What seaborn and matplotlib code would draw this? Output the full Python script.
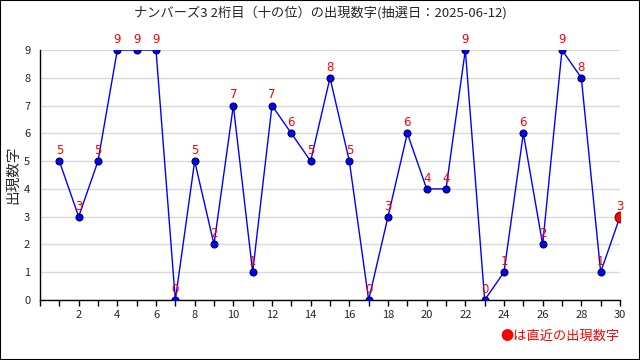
import matplotlib.pyplot as plt
from matplotlib.ticker import MultipleLocator
import seaborn as sns
import pandas as pd

# 抽選回 (古い順) と 2桁目の出現数字
draw_index = list(range(1, 31))
digits = [5, 3, 5, 9, 9, 9, 0, 5, 2, 7, 1, 7, 6, 5, 8, 5, 0, 3, 6, 4,
          4, 9, 0, 1, 6, 2, 9, 8, 1, 3]
x_ticks = list(range(2, 31, 2))
y_ticks = list(range(0, 10))

title = "ナンバーズ3 2桁目（十の位）の出現数字(抽選日：2025-06-12)"

df = pd.DataFrame({"回": draw_index, "数字": digits})

sns.set_theme(style="white")
plt.rcParams['font.family'] = ['Noto Sans CJK JP', 'DejaVu Sans']

fig = plt.figure(figsize=(6.4, 3.6), dpi=100)
ax = fig.add_axes([40 / 640, 60 / 360, 580 / 640, 250 / 360])

sns.lineplot(data=df, x="回", y="数字", ax=ax, color="#0000ff", linewidth=1,
             marker="o", markersize=5, markerfacecolor="#0000ff",
             markeredgecolor="#000044", markeredgewidth=0.8, zorder=3)

# 直近の数字を大きい赤丸で
last = df.iloc[-1]
ax.scatter([last["回"]], [last["数字"]], s=60, color="#ff0000",
           edgecolor="#880000", linewidth=0.8, zorder=4)

# 各点の数字ラベル
for x, y in zip(df["回"], df["数字"]):
    ax.annotate(str(y), (x, y), xytext=(0, 3), textcoords="offset points",
                ha="center", va="bottom", color="#ff0000", fontsize=8.5,
                family=['DejaVu Sans'])

ax.set_xlim(0, 30)
ax.set_ylim(0, 9)
ax.set_xticks(x_ticks)
ax.xaxis.set_minor_locator(MultipleLocator(1))
ax.set_yticks(y_ticks)
ax.tick_params(axis="x", which="both", direction="out", length=4, width=1,
               color="black", bottom=True, labelsize=8)
ax.tick_params(axis="y", length=0, labelsize=8, pad=7)
ax.grid(axis="y", color="#d9d9d9", linewidth=1)
ax.set_axisbelow(True)
for side in ["top", "right"]:
    ax.spines[side].set_visible(False)
for side in ["left", "bottom"]:
    ax.spines[side].set_color("black")
    ax.spines[side].set_linewidth(1)

ax.set_xlabel("")
ax.set_ylabel("出現数字", fontsize=10.5)
ax.yaxis.set_label_coords(-0.035, 0.5)

fig.text(0.5, 1 - 13 / 360, title, ha="center", va="center", fontsize=9.5)
fig.text(620 / 640, 1 - 336 / 360, "●は直近の出現数字", ha="right", va="center",
         color="#ff0000", fontsize=9.5)

# 外枠
fig.patches.append(plt.Rectangle((0, 0), 1, 1, transform=fig.transFigure,
                                 fill=False, edgecolor="black", linewidth=1.5))

fig.savefig("out.png", dpi=100)
